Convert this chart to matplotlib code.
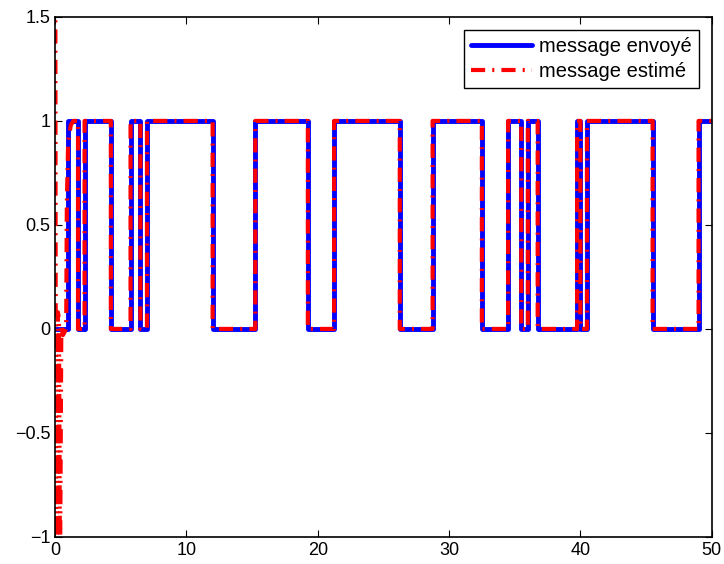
import matplotlib.pyplot as plt

# instants de changement du message (s)
edges = [0, 1.0, 1.75, 2.25, 4.25, 5.75, 6.5, 7.0, 12.0, 15.25, 19.25, 21.25,
         26.25, 28.75, 32.5, 34.5, 35.5, 36.0, 36.75, 39.75, 40.0, 40.5,
         45.5, 49.0, 50]
# niveau du message sur chaque intervalle
levels = [0, 1, 0, 1, 0, 1, 0, 1, 0, 1, 0, 1, 0, 1, 0, 1, 0, 1, 0, 1, 0, 1, 0, 1]

# regime transitoire de l'estimateur au debut
trans_x = [0.0, 0.08, 0.22, 0.3, 0.38, 0.48, 0.6, 0.85, 0.9, 1.0, 1.2, 1.4]
trans_y = [3.0, -1.6, 0.08, 0.05, -1.2, 0.02, -0.03, 0.0, 0.6, 0.9, 0.98, 1.0]

plt.rcParams['font.family'] = ['Liberation Sans', 'DejaVu Sans']

fig = plt.figure(figsize=(7.24, 5.64), dpi=100)
ax = fig.add_axes([0.076, 0.048, 0.907, 0.922])

# message envoye (escalier)
ax.plot(edges, levels + [levels[-1]], drawstyle='steps-post', color='#0000ff',
        lw=3.5, solid_joinstyle='round', solid_capstyle='round',
        label='message envoyé')

# message estime : transitoire puis suit le message
est_x = list(trans_x)
est_y = list(trans_y)
for i in range(2, len(edges)):
    est_x += [edges[i], edges[i]]
    est_y += [levels[i - 1], levels[i] if i < len(levels) else levels[-1]]
ax.plot(est_x, est_y, color='#ff0000', lw=3, linestyle=(0, (3.4, 1.7, 0.5, 1.7)),
        label='message estimé')

ax.set_xlim(0, 50)
ax.set_ylim(-1, 1.5)
ax.set_xticks([0, 10, 20, 30, 40, 50])
ax.set_yticks([-1, -0.5, 0, 0.5, 1, 1.5])
ax.set_yticklabels(['\u22121', '\u22120.5', '0', '0.5', '1', '1.5'])
ax.tick_params(direction='in', top=True, right=True, labelsize=13, length=5)
for s in ax.spines.values():
    s.set_linewidth(1.2)

leg = ax.legend(loc='upper right', fontsize=14.5, fancybox=False, framealpha=1,
                edgecolor='black', borderaxespad=0.65, handlelength=3.0,
                handletextpad=0.35, borderpad=0.35, labelspacing=0.3)
leg.get_frame().set_linewidth(1)

fig.savefig('out.png', dpi=100)
